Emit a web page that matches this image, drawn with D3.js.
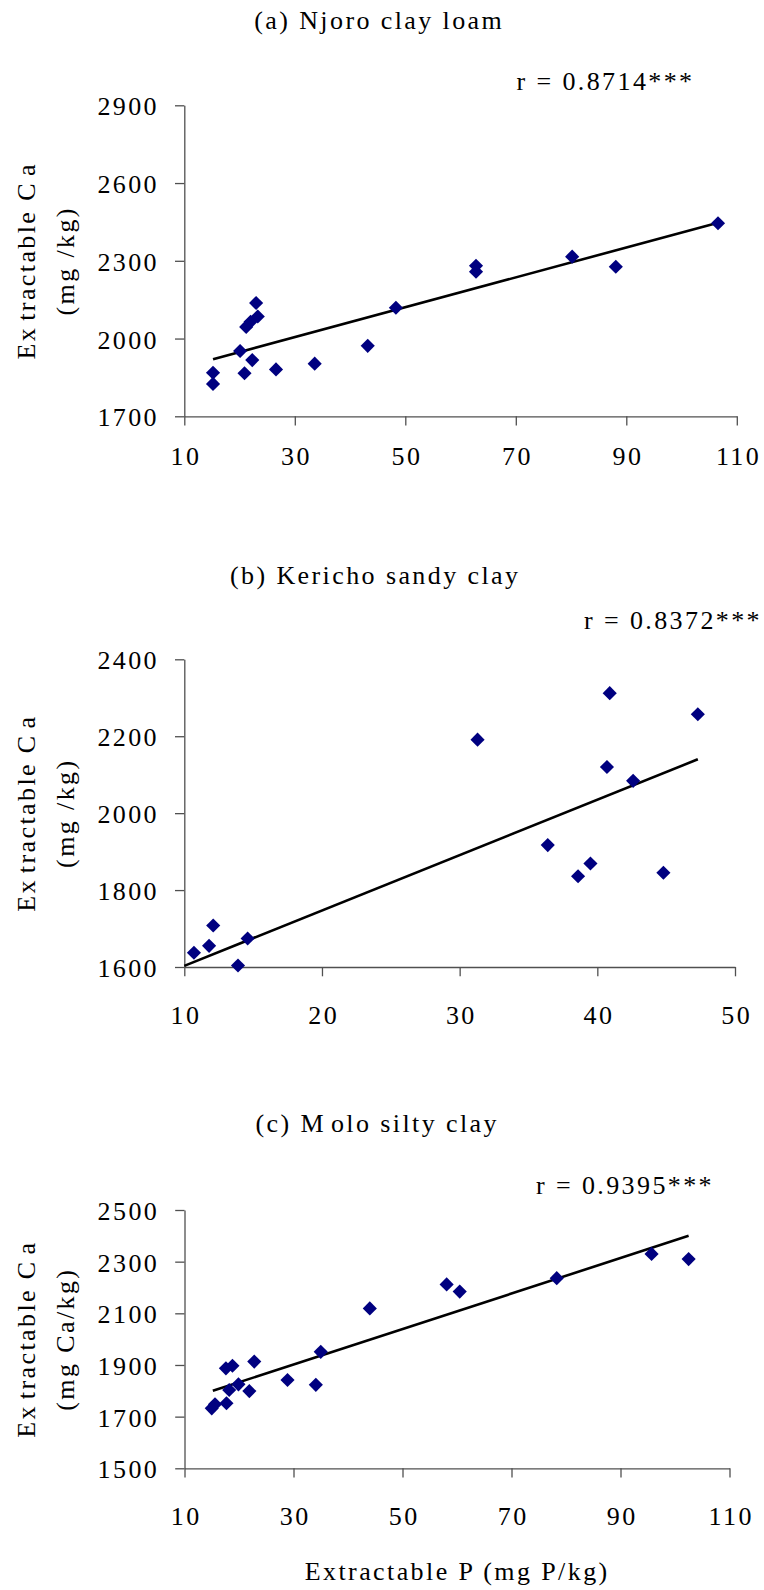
<!DOCTYPE html>
<html>
<head>
<meta charset="utf-8">
<script src="https://cdn.jsdelivr.net/npm/d3@7"></script>
<style>
  html, body { margin: 0; padding: 0; background: #fff; }
  svg { display: block; }
</style>
</head>
<body>
<svg id="fig" width="764" height="1590"></svg>
<script>
// ---- Data: extractable P (mg/kg) vs extractable Ca (mg/kg) ----
const njoroP  = [15.2, 15.2, 20.1, 20.9, 22.3, 21.2, 22.0, 23.3, 23.0, 26.6, 33.6, 43.2, 48.3, 62.8, 62.8, 80.2, 88.1, 106.6];
const njoroCa = [1868, 1825, 1952, 1866, 1917, 2045, 2065, 2085, 2137, 1881, 1903, 1972, 2119, 2281, 2258, 2316, 2277, 2445];
const njoroTrend = [[15.2, 1920], [106.6, 2447]];

const kerichoP  = [10.7, 11.8, 12.1, 13.9, 14.6, 31.3, 36.4, 38.6, 39.5, 40.9, 40.7, 42.6, 44.8, 47.3];
const kerichoCa = [1637, 1655, 1708, 1604, 1674, 2191, 1917, 1836, 1869, 2312, 2120, 2084, 1845, 2257];
const kerichoTrend = [[10, 1603], [47.3, 2140]];

const moloP  = [15.0, 15.6, 17.7, 17.6, 18.8, 18.2, 19.9, 21.9, 22.8, 28.9, 34.1, 35.0, 44.0, 58.1, 60.5, 78.3, 95.7, 102.5];
const moloCa = [1732, 1748, 1752, 1887, 1897, 1803, 1825, 1799, 1913, 1842, 1823, 1951, 2119, 2212, 2184, 2236, 2330, 2310];
const moloTrend = [[15.2, 1800], [102.5, 2400]];

// ---- Axis ticks ----
const njoroXTicks = [10, 30, 50, 70, 90, 110];
const njoroYTicks = [1700, 2000, 2300, 2600, 2900];
const kerichoXTicks = [10, 20, 30, 40, 50];
const kerichoYTicks = [1600, 1800, 2000, 2200, 2400];
const moloXTicks = [10, 30, 50, 70, 90, 110];
const moloYTicks = [1500, 1700, 1900, 2100, 2300, 2500];

// ---- Text (each label split into runs; runs after the first get a small extra gap) ----
const panelTitles = [["(a) Njoro clay loam"], ["(b) Kericho sandy clay"], ["(c) M", "olo silty clay"]];
const rLabels = ["r = 0.8714***", "r = 0.8372***", "r = 0.9395***"];
const yTitleTop = [["Ex", "tractable C", "a"], ["Ex", "tractable C", "a"], ["Ex", "tractable C", "a"]];
const yTitleBottom = ["(mg /kg)", "(mg /kg)", "(mg Ca/kg)"];
const xTitle = "Extractable P (mg P/kg)";

// ---- Styling ----
const FONT = "'Liberation Serif', 'Times New Roman', Times, serif";
const FS = 26;          // font size
const LS = 2.4;         // letter spacing
const GAP = 5;          // extra gap between runs
const MARK = "#000080";
const AXIS = "#505050";
const TICK = 9.3;

const panels = [
  { P: njoroP, Ca: njoroCa, trend: njoroTrend, xt: njoroXTicks, yt: njoroYTicks,
    xr: [184.3, 736.8], yr: [416.3, 105.3], xPad: 21,
    titleX: 378, titleY: 28.5, rX: 516.5, rY: 90 },
  { P: kerichoP, Ca: kerichoCa, trend: kerichoTrend, xt: kerichoXTicks, yt: kerichoYTicks,
    xr: [184.3, 735], yr: [967, 659.3], xPad: 29,
    titleX: 374, titleY: 584, rX: 584, rY: 628.5 },
  { P: moloP, Ca: moloCa, trend: moloTrend, xt: moloXTicks, yt: moloYTicks,
    xr: [184.5, 729.5], yr: [1468.3, 1210], xPad: 29,
    titleX: 376, titleY: 1131.5, rX: 536, rY: 1193.5 }
];

const svg = d3.select("#fig");
svg.append("rect").attr("width", 764).attr("height", 1590).attr("fill", "#fff");

const diamond = d3.symbol().type(d3.symbolSquare).size(100);

function runs(sel, parts) {
  parts.forEach((t, k) => sel.append("tspan").text(t).attr("dx", k ? GAP : null));
}

panels.forEach((p, i) => {
  const xd = d3.extent(p.xt), yd = d3.extent(p.yt);
  const x = d3.scaleLinear().domain(xd).range(p.xr);
  const y = d3.scaleLinear().domain(yd).range(p.yr);
  const g = svg.append("g");

  // Y axis
  const ya = g.append("g").attr("transform", `translate(${p.xr[0]},0)`)
    .call(d3.axisLeft(y).tickValues(p.yt).tickFormat(d3.format("d"))
      .tickSize(TICK).tickSizeOuter(0).tickPadding(16));
  // X axis
  const xa = g.append("g").attr("transform", `translate(0,${p.yr[0]})`)
    .call(d3.axisBottom(x).tickValues(p.xt).tickFormat(d3.format("d"))
      .tickSize(TICK).tickSizeOuter(0).tickPadding(p.xPad));

  [ya, xa].forEach(a => {
    a.select(".domain").attr("stroke", AXIS).attr("stroke-width", 1.3);
    a.selectAll(".tick line").attr("stroke", AXIS).attr("stroke-width", 1.3);
    a.selectAll(".tick text")
      .attr("fill", "#000")
      .style("font-family", FONT).style("font-size", FS + "px")
      .style("letter-spacing", LS + "px");
  });
  ya.selectAll(".tick text").attr("dy", "0.37em");
  xa.selectAll(".tick text").attr("dx", LS / 2);

  // Trend line
  g.append("path")
    .datum(p.trend)
    .attr("d", d3.line().x(d => x(d[0])).y(d => y(d[1])))
    .attr("fill", "none").attr("stroke", "#000").attr("stroke-width", 2.6);

  // Points
  g.selectAll(".pt").data(p.P.map((v, k) => [v, p.Ca[k]])).join("path")
    .attr("class", "pt")
    .attr("d", diamond)
    .attr("transform", d => `translate(${x(d[0])},${y(d[1])}) rotate(45)`)
    .attr("fill", MARK);

  // Title
  const t = g.append("text")
    .attr("x", p.titleX + LS / 2).attr("y", p.titleY)
    .attr("text-anchor", "middle");
  runs(t, panelTitles[i]);

  // Correlation label
  g.append("text").text(rLabels[i])
    .attr("x", p.rX).attr("y", p.rY);

  // Y axis title (two lines)
  const cy = (p.yr[0] + p.yr[1]) / 2;
  const yt1 = g.append("text")
    .attr("transform", `translate(35,${cy}) rotate(-90)`)
    .attr("text-anchor", "middle");
  runs(yt1, yTitleTop[i]);
  g.append("text").text(yTitleBottom[i])
    .attr("transform", `translate(74,${cy}) rotate(-90)`)
    .attr("text-anchor", "middle");

  g.selectAll(":scope > text")
    .attr("fill", "#000")
    .style("font-family", FONT).style("font-size", FS + "px")
    .style("letter-spacing", LS + "px");
});

// X axis title (bottom panel)
svg.append("text").text(xTitle)
  .attr("x", 456 + LS / 2).attr("y", 1580)
  .attr("text-anchor", "middle")
  .attr("fill", "#000")
  .style("font-family", FONT).style("font-size", FS + "px")
  .style("letter-spacing", LS + "px");
</script>
</body>
</html>
